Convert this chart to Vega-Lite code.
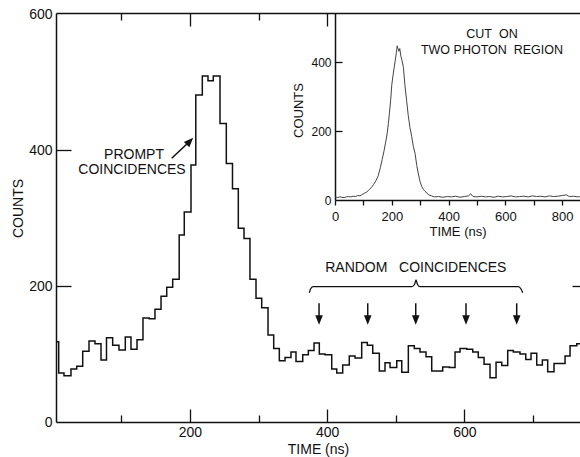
{
  "$schema": "https://vega.github.io/schema/vega-lite/v6.json",
  "width": 524,
  "height": 409,
  "autosize": {"type": "none"},
  "padding": {"left": 56, "top": 13, "right": 0, "bottom": 35},
  "background": "white",
  "config": {
    "view": {"stroke": null},
    "font": "Liberation Sans",
    "axis": {"grid": false, "domainColor": "#111", "domainWidth": 1.5, "tickColor": "#111", "tickWidth": 1.3, "labelColor": "#111", "titleColor": "#111", "labelFont": "Liberation Sans", "titleFont": "Liberation Sans", "labelFontSize": 14, "titleFontSize": 14, "titleFontWeight": "normal", "labelFlush": false, "labelOverlap": false}
  },
  "datasets": {
    "hist": [
      {"t":4.7,"c":118},{"t":8.6,"c":72},{"t":16.3,"c":68},{"t":26.5,"c":78},{"t":34.9,"c":82},{"t":43.6,"c":104},{"t":52.8,"c":119},{"t":61.5,"c":115},{"t":70.3,"c":91},{"t":78.3,"c":124},{"t":87.3,"c":113},{"t":96.5,"c":106},{"t":105.7,"c":125},{"t":114.0,"c":107},{"t":122.8,"c":121},{"t":131.5,"c":153},{"t":140.7,"c":152},{"t":149.0,"c":166},{"t":157.8,"c":185},{"t":166.1,"c":198},{"t":174.8,"c":210},{"t":184.3,"c":275},{"t":191.7,"c":309},{"t":201.5,"c":378},{"t":208.5,"c":481},{"t":218.0,"c":509},{"t":226.3,"c":502},{"t":234.0,"c":509},{"t":243.8,"c":439},{"t":253.0,"c":380},{"t":262.0,"c":343},{"t":270.5,"c":285},{"t":278.8,"c":270},{"t":287.5,"c":210},{"t":296.3,"c":182},{"t":304.6,"c":168},{"t":313.8,"c":128},{"t":322.1,"c":108},{"t":330.3,"c":90},{"t":338.6,"c":95},{"t":347.3,"c":103},{"t":354.6,"c":89},{"t":364.4,"c":99},{"t":372.6,"c":105},{"t":380.9,"c":116},{"t":388.6,"c":100},{"t":396.9,"c":99},{"t":406.7,"c":78},{"t":414.0,"c":72},{"t":422.7,"c":84},{"t":432.3,"c":97},{"t":440.7,"c":94},{"t":450.4,"c":117},{"t":458.6,"c":113},{"t":466.5,"c":101},{"t":476.1,"c":75},{"t":484.4,"c":87},{"t":491.7,"c":80},{"t":501.5,"c":90},{"t":508.8,"c":73},{"t":518.4,"c":112},{"t":527.1,"c":108},{"t":535.4,"c":103},{"t":544.2,"c":96},{"t":552.5,"c":75},{"t":560.7,"c":75},{"t":568.5,"c":81},{"t":578.2,"c":80},{"t":586.5,"c":103},{"t":593.8,"c":108},{"t":603.5,"c":107},{"t":612.3,"c":103},{"t":620.4,"c":95},{"t":628.8,"c":85},{"t":637.5,"c":65},{"t":646.3,"c":88},{"t":654.6,"c":83},{"t":663.3,"c":105},{"t":671.5,"c":103},{"t":681.2,"c":100},{"t":689.6,"c":92},{"t":697.3,"c":101},{"t":705.6,"c":84},{"t":713.8,"c":91},{"t":721.6,"c":74},{"t":730.8,"c":86},{"t":739.1,"c":86},{"t":746.9,"c":97},{"t":754.2,"c":112},{"t":764.0,"c":115},{"t":774.6,"c":115}
    ],
    "inset": [
      {"t":0,"c":9},{"t":8,"c":7},{"t":16,"c":9},{"t":24,"c":8},{"t":32,"c":7},{"t":40,"c":9},{"t":48,"c":10},{"t":56,"c":9},{"t":64,"c":11},{"t":72,"c":10},{"t":80,"c":13},{"t":88,"c":12},{"t":96,"c":16},{"t":104,"c":20},{"t":112,"c":23},{"t":120,"c":30},{"t":128,"c":36},{"t":136,"c":45},{"t":144,"c":56},{"t":152,"c":70},{"t":160,"c":95},{"t":166,"c":118},{"t":172,"c":140},{"t":178,"c":166},{"t":184,"c":195},{"t":188,"c":223},{"t":192,"c":255},{"t":196,"c":290},{"t":200,"c":335},{"t":204,"c":360},{"t":208,"c":383},{"t":212,"c":405},{"t":216,"c":428},{"t":219,"c":448},{"t":222,"c":440},{"t":225,"c":432},{"t":228,"c":440},{"t":232,"c":418},{"t":236,"c":405},{"t":241,"c":385},{"t":246,"c":335},{"t":252,"c":290},{"t":258,"c":245},{"t":264,"c":210},{"t":270,"c":185},{"t":276,"c":155},{"t":282,"c":135},{"t":288,"c":100},{"t":293,"c":78},{"t":299,"c":55},{"t":305,"c":40},{"t":311,"c":31},{"t":317,"c":25},{"t":330,"c":15},{"t":340,"c":12},{"t":350,"c":9},{"t":365,"c":10},{"t":380,"c":8},{"t":395,"c":10},{"t":410,"c":9},{"t":425,"c":11},{"t":440,"c":8},{"t":455,"c":10},{"t":470,"c":12},{"t":478,"c":18},{"t":486,"c":10},{"t":500,"c":9},{"t":515,"c":11},{"t":530,"c":9},{"t":545,"c":10},{"t":560,"c":8},{"t":575,"c":11},{"t":590,"c":9},{"t":605,"c":10},{"t":620,"c":12},{"t":635,"c":9},{"t":650,"c":10},{"t":665,"c":11},{"t":680,"c":9},{"t":695,"c":12},{"t":710,"c":10},{"t":725,"c":11},{"t":740,"c":9},{"t":755,"c":12},{"t":770,"c":10},{"t":785,"c":11},{"t":800,"c":13},{"t":815,"c":15},{"t":825,"c":10},{"t":840,"c":11},{"t":855,"c":9},{"t":862,"c":10}
    ],
    "labels": [
      {"t":118.4,"c":392.6,"text":"PROMPT"},
      {"t":115.5,"c":370.6,"text":"COINCIDENCES"},
      {"t":529.3,"c":226.9,"text":"RANDOM\u00a0\u00a0\u00a0COINCIDENCES"}
    ],
    "brace": [
      {"o":1,"t":374.0,"c":190.1},{"o":2,"t":375.8,"c":195.6},{"o":3,"t":379.4,"c":199.0},{"o":4,"t":523.3,"c":199.0},{"o":5,"t":527.4,"c":202.2},{"o":6,"t":529.6,"c":208.8},{"o":7,"t":531.8,"c":202.2},{"o":8,"t":535.4,"c":199.0},{"o":9,"t":678.8,"c":199.0},{"o":10,"t":682.7,"c":195.6},{"o":11,"t":685.2,"c":190.1}
    ],
    "shafts": [
      {"t1":388.2,"c1":174.6,"t2":388.2,"c2":155},
      {"t1":459.2,"c1":174.6,"t2":459.2,"c2":155},
      {"t1":529.2,"c1":174.6,"t2":529.2,"c2":155},
      {"t1":602.5,"c1":174.6,"t2":602.5,"c2":155},
      {"t1":676.4,"c1":174.6,"t2":676.4,"c2":155},
      {"t1":173.4,"c1":387.8,"t2":198.6,"c2":411.8}
    ],
    "heads": [
      {"t":388.2,"c":150,"a":180},
      {"t":459.2,"c":150,"a":180},
      {"t":529.2,"c":150,"a":180},
      {"t":602.5,"c":150,"a":180},
      {"t":676.4,"c":150,"a":180},
      {"t":199.9,"c":412.9,"a":44}
    ],
    "insetLabels": [
      {"t":552.8,"c":482.3,"text":"CUT\u00a0\u00a0ON"},
      {"t":552.8,"c":435.8,"text":"TWO PHOTON\u00a0\u00a0REGION"}
    ]
  },
  "layer": [
    {
      "resolve": {"axis": {"x": "independent", "y": "independent"}},
      "layer": [
        {
          "data": {"name": "hist"},
          "mark": {"type": "line", "interpolate": "step-after", "color": "#111", "strokeWidth": 1.5, "clip": true},
          "encoding": {
            "x": {"field": "t", "type": "quantitative", "scale": {"domain": [4.67, 768.7], "nice": false}, "axis": {"orient": "bottom", "values": [200, 400, 600], "ticks": false, "labelPadding": 3, "title": "TIME (ns)", "titlePadding": 3}},
            "y": {"field": "c", "type": "quantitative", "scale": {"domain": [0, 601.5], "nice": false}, "axis": {"orient": "left", "values": [0, 200, 400, 600], "ticks": false, "labelPadding": 4, "title": "COUNTS", "titlePadding": 3, "titleY": 195}}
          }
        },
        {
          "data": {"name": "hist"},
          "mark": {"type": "point", "opacity": 0},
          "encoding": {
            "x": {"field": "t", "type": "quantitative", "scale": {"domain": [4.67, 768.7], "nice": false}, "axis": {"orient": "bottom", "values": [200, 400, 600], "tickSize": -13, "labels": false, "domain": false, "title": null}},
            "y": {"field": "c", "type": "quantitative", "scale": {"domain": [0, 601.5], "nice": false}, "axis": {"orient": "left", "values": [200, 400], "tickSize": -15, "labels": false, "domain": false, "title": null}}
          }
        },
        {
          "data": {"name": "hist"},
          "mark": {"type": "point", "opacity": 0},
          "encoding": {
            "x": {"field": "t", "type": "quantitative", "scale": {"domain": [4.67, 768.7], "nice": false}, "axis": {"orient": "bottom", "values": [100, 300, 500, 700], "tickSize": -7, "labels": false, "domain": false, "title": null}},
            "y": {"field": "c", "type": "quantitative", "scale": {"domain": [0, 601.5], "nice": false}, "axis": {"orient": "right", "values": [200], "tickSize": -8, "labels": false, "domain": false, "title": null}}
          }
        },
        {
          "data": {"name": "hist"},
          "mark": {"type": "point", "opacity": 0},
          "encoding": {
            "x": {"field": "t", "type": "quantitative", "scale": {"domain": [4.67, 768.7], "nice": false}, "axis": {"orient": "top", "values": [100, 300], "tickSize": -7, "labels": false, "domain": true, "title": null}},
            "y": {"field": "c", "type": "quantitative", "scale": {"domain": [0, 601.5], "nice": false}, "axis": null}
          }
        },
        {
          "data": {"name": "hist"},
          "mark": {"type": "point", "opacity": 0},
          "encoding": {
            "x": {"field": "t", "type": "quantitative", "scale": {"domain": [4.67, 768.7], "nice": false}, "axis": {"orient": "top", "values": [200, 400], "tickSize": -13, "labels": false, "domain": false, "title": null}},
            "y": {"field": "c", "type": "quantitative", "scale": {"domain": [0, 601.5], "nice": false}, "axis": null}
          }
        },
        {
          "data": {"name": "labels"},
          "mark": {"type": "text", "fontSize": 14, "color": "#111", "align": "center", "baseline": "middle"},
          "encoding": {
            "x": {"field": "t", "type": "quantitative", "scale": {"domain": [4.67, 768.7], "nice": false}, "axis": null},
            "y": {"field": "c", "type": "quantitative", "scale": {"domain": [0, 601.5], "nice": false}, "axis": null},
            "text": {"field": "text"}
          }
        },
        {
          "data": {"name": "brace"},
          "mark": {"type": "line", "color": "#111", "strokeWidth": 1.3, "interpolate": "monotone"},
          "encoding": {
            "x": {"field": "t", "type": "quantitative", "scale": {"domain": [4.67, 768.7], "nice": false}, "axis": null},
            "y": {"field": "c", "type": "quantitative", "scale": {"domain": [0, 601.5], "nice": false}, "axis": null},
            "order": {"field": "o"}
          }
        },
        {
          "data": {"name": "shafts"},
          "mark": {"type": "rule", "color": "#111", "strokeWidth": 1.5},
          "encoding": {
            "x": {"field": "t1", "type": "quantitative", "scale": {"domain": [4.67, 768.7], "nice": false}, "axis": null},
            "y": {"field": "c1", "type": "quantitative", "scale": {"domain": [0, 601.5], "nice": false}, "axis": null},
            "x2": {"field": "t2"},
            "y2": {"field": "c2"}
          }
        },
        {
          "data": {"name": "heads"},
          "mark": {"type": "point", "shape": "M-0.8,1L0.8,1L0,-1Z", "filled": true, "color": "#111", "opacity": 1, "size": 90},
          "encoding": {
            "x": {"field": "t", "type": "quantitative", "scale": {"domain": [4.67, 768.7], "nice": false}, "axis": null},
            "y": {"field": "c", "type": "quantitative", "scale": {"domain": [0, 601.5], "nice": false}, "axis": null},
            "angle": {"field": "a", "type": "quantitative", "scale": null}
          }
        }
      ]
    },
    {
      "resolve": {"axis": {"x": "independent", "y": "independent"}},
      "layer": [
        {
          "data": {"name": "inset"},
          "mark": {"type": "line", "color": "#444", "strokeWidth": 1},
          "encoding": {
            "x": {"field": "t", "type": "quantitative", "scale": {"domain": [0, 862.7], "range": [279, 524], "nice": false}, "axis": {"orient": "bottom", "offset": -222, "values": [0, 100, 200, 300, 400, 500, 600, 700, 800], "tickSize": 5, "labelPadding": 5, "labelFontSize": 13, "labelExpr": "datum.value % 200 === 0 ? datum.label : ''", "title": "TIME (ns)", "titleFontSize": 13, "titlePadding": 2}},
            "y": {"field": "c", "type": "quantitative", "scale": {"domain": [0, 543.3], "range": [187, 0], "nice": false}, "axis": {"orient": "left", "offset": -279, "values": [0, 200, 400], "ticks": false, "labelPadding": 4, "labelFontSize": 12, "title": "COUNTS", "titleFontSize": 13, "titlePadding": 5, "titleY": 97}}
          }
        },
        {
          "data": {"name": "inset"},
          "mark": {"type": "point", "opacity": 0},
          "encoding": {
            "x": {"field": "t", "type": "quantitative", "scale": {"domain": [0, 862.7], "range": [279, 524], "nice": false}, "axis": null},
            "y": {"field": "c", "type": "quantitative", "scale": {"domain": [0, 543.3], "range": [187, 0], "nice": false}, "axis": {"orient": "left", "offset": -279, "values": [200, 400], "tickSize": -7, "labels": false, "domain": false, "title": null}}
          }
        },
        {
          "data": {"name": "insetLabels"},
          "mark": {"type": "text", "fontSize": 12.5, "color": "#111", "align": "center", "baseline": "middle"},
          "encoding": {
            "x": {"field": "t", "type": "quantitative", "scale": {"domain": [0, 862.7], "range": [279, 524], "nice": false}, "axis": null},
            "y": {"field": "c", "type": "quantitative", "scale": {"domain": [0, 543.3], "range": [187, 0], "nice": false}, "axis": null},
            "text": {"field": "text"}
          }
        }
      ]
    }
  ],
  "resolve": {"scale": {"x": "independent", "y": "independent"}}
}
